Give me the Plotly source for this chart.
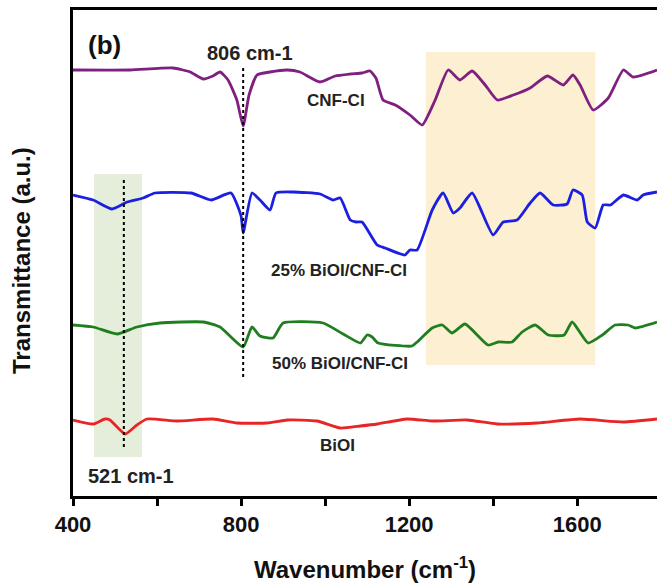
import plotly.graph_objects as go

# FTIR spectra (vertically offset, arbitrary units)
wn_cnf = [400, 536, 638, 679, 710, 733, 750, 769, 790, 805, 819, 838, 869, 910, 940, 988, 1024,
          1060, 1088, 1107, 1121, 1138, 1167, 1202, 1231, 1262, 1293, 1321, 1350, 1381, 1410, 1448,
          1488, 1529, 1567, 1590, 1607, 1638, 1674, 1710, 1733, 1790]
t_cnf = [426, 426, 428, 424, 417, 420, 424, 416, 396, 370, 401, 421, 424, 426, 424, 414, 420,
         422, 423, 425, 418, 396, 391, 381, 371, 396, 426, 416, 425, 411, 396, 401,
         408, 420, 411, 421, 411, 386, 398, 426, 419, 426]

wn_25 = [400, 448, 493, 529, 567, 595, 681, 729, 776, 800, 805, 826, 845, 869, 883, 924, 988,
         1019, 1036, 1060, 1074, 1088, 1124, 1143, 1190, 1202, 1219, 1255, 1281, 1305, 1321,
         1350, 1400, 1424, 1457, 1488, 1512, 1543, 1576, 1590, 1612, 1624, 1643, 1662, 1679,
         1710, 1743, 1757, 1790]
t_25 = [301, 296, 287, 294, 298, 303, 303, 296, 303, 280, 263, 303, 296, 286, 303, 304, 302,
        296, 298, 276, 274, 274, 251, 248, 241, 246, 246, 286, 303, 283, 288, 303,
        261, 274, 276, 293, 303, 291, 292, 306, 301, 274, 268, 291, 291, 301, 296, 301, 304]

wn_50 = [400, 448, 505, 552, 607, 710, 750, 805, 826, 845, 876, 900, 995, 1043, 1084, 1100,
         1112, 1126, 1207, 1219, 1255, 1279, 1302, 1333, 1388, 1412, 1445, 1469, 1500, 1531,
         1569, 1588, 1626, 1660, 1690, 1721, 1738, 1790]
t_50 = [171, 169, 162, 169, 173, 174, 169, 149, 169, 160, 158, 173, 173, 162, 153, 161,
        159, 153, 150, 154, 168, 171, 163, 172, 151, 154, 154, 164, 171, 161,
        161, 174, 153, 161, 171, 171, 168, 174]

wn_bioi = [400, 448, 476, 488, 524, 552, 576, 648, 733, 790, 862, 910, 981, 1036, 1084, 1124,
           1195, 1257, 1338, 1410, 1505, 1607, 1710, 1790]
t_bioi = [76, 72, 77, 76, 62, 71, 77, 75, 77, 73, 73, 76, 75, 68, 70, 72,
          77, 75, 76, 72, 73, 77, 74, 77]

series = [
    ("CNF-CI", wn_cnf, t_cnf, "#7f1f80"),
    ("25% BiOI/CNF-CI", wn_25, t_25, "#1c1ee0"),
    ("50% BiOI/CNF-CI", wn_50, t_50, "#1f7f1f"),
    ("BiOI", wn_bioi, t_bioi, "#e82424"),
]

# label positions (wavenumber, a.u.)
label_pos = {
    "CNF-CI": (1025, 396),
    "25% BiOI/CNF-CI": (1032, 226),
    "50% BiOI/CNF-CI": (1035, 133),
    "BiOI": (1030, 51),
}

x_ticks = [400, 600, 800, 1000, 1200, 1400, 1600]
x_ticktext = ["400", "", "800", "", "1200", "", "1600"]

FONT = "Arial, Liberation Sans, sans-serif"

fig = go.Figure()
for name, wn, t, col in series:
    fig.add_trace(go.Scatter(x=wn, y=t, mode="lines", name=name,
                             line=dict(color=col, width=2.8, shape="spline", smoothing=0.5),
                             showlegend=False))
    lx, ly = label_pos[name]
    fig.add_annotation(x=lx, y=ly, text="<b>" + name + "</b>", showarrow=False,
                       font=dict(family=FONT, size=17, color="#222"))

# highlighted bands
fig.add_shape(type="rect", x0=1240, x1=1643, y0=131, y1=444, layer="below",
              fillcolor="#fcefd2", line=dict(width=0))
fig.add_shape(type="rect", x0=450, x1=564, y0=39, y1=322, layer="below",
              fillcolor="#e4eedb", line=dict(width=0))

# peak markers
fig.add_shape(type="line", x0=805, x1=805, y0=119, y1=431,
              line=dict(color="black", width=2, dash="dot"))
fig.add_shape(type="line", x0=521, x1=521, y0=49, y1=316,
              line=dict(color="black", width=2, dash="dot"))

fig.add_annotation(x=822, y=443, text="<b>806 cm-1</b>", showarrow=False,
                   font=dict(family=FONT, size=20, color="#222"))
fig.add_annotation(x=539, y=20, text="<b>521 cm-1</b>", showarrow=False,
                   font=dict(family=FONT, size=20, color="#222"))
fig.add_annotation(x=475, y=451, text="<b>(b)</b>", showarrow=False,
                   font=dict(family=FONT, size=26, color="#111"))

# y-axis title placed as a rotated annotation
fig.add_annotation(xref="paper", yref="paper", x=-0.087, y=0.484,
                   xanchor="center", yanchor="middle", textangle=-90,
                   text="<b>Transmittance (a.u.)</b>", showarrow=False,
                   font=dict(family=FONT, size=24, color="#111"))

fig.update_layout(
    width=657, height=586,
    margin=dict(l=73, r=0, t=10, b=90),
    plot_bgcolor="white", paper_bgcolor="white",
    xaxis=dict(range=[400, 1790], tickvals=x_ticks, ticktext=x_ticktext,
               ticks="outside", ticklen=7, tickwidth=2.5, tickcolor="black",
               showline=True, linewidth=2.5, linecolor="black", mirror=True,
               showgrid=False, zeroline=False,
               tickfont=dict(family=FONT, size=22, color="#111", weight="bold"),
               title=dict(text="<b>Wavenumber (cm<sup>-1</sup>)</b>", standoff=26,
                          font=dict(family=FONT, size=24, color="#111"))),
    yaxis=dict(range=[0, 486], showticklabels=False, ticks="",
               showline=True, linewidth=2.5, linecolor="black", mirror=False,
               showgrid=False, zeroline=False),
)

fig.write_html("out.html")
